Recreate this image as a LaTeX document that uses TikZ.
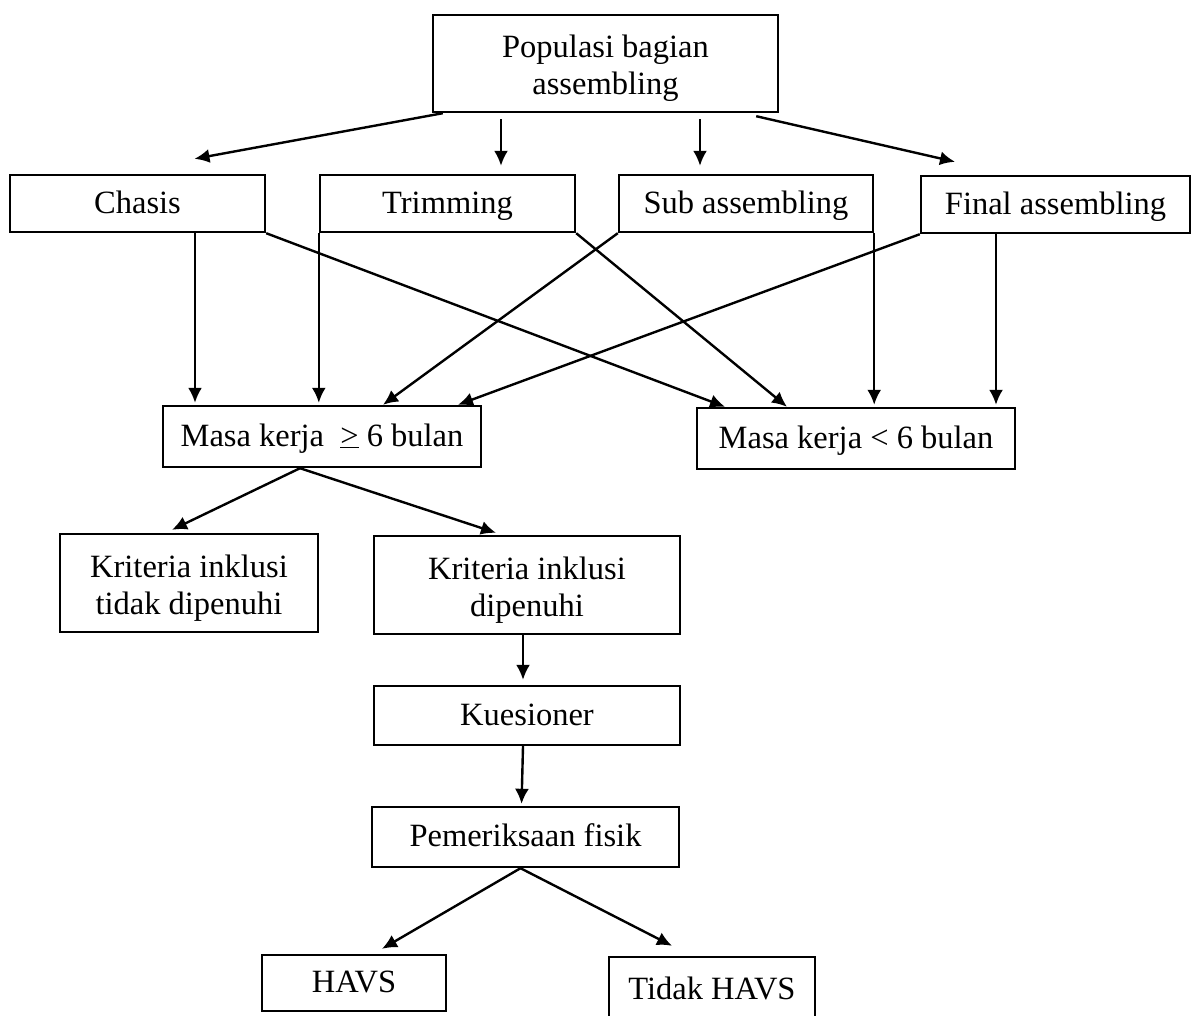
\documentclass[tikz,border=0pt]{standalone}
\usepackage{fontspec}
\setmainfont{Liberation Serif}
\usetikzlibrary{arrows.meta}

\begin{document}
\begin{tikzpicture}[x=1pt,y=-1pt,
    box/.style={draw, line width=2.4pt, inner sep=0pt, align=center,
      font=\fontsize{32.5}{37}\selectfont},
    oneline/.style={box, text height=25pt, text depth=6pt},
    twoline/.style={box, text height=70pt, text depth=8pt},
    arr/.style={line width=2.4pt, -{Latex[length=15pt,width=14pt]}},
    gap/.style={shorten <=6pt, shorten >=8pt}]
          \useasboundingbox (0,0) rectangle (1193,1015);
          \clip (0,0) rectangle (1193,1015);
          % Population
          \node[twoline, minimum width=345pt, minimum height=97pt] (pop) at (605.5,63.5) {Populasi bagian\\assembling};
          % Sections
          \node[oneline, minimum width=255pt, minimum height=57pt] (chasis) at (137.5,203.5) {Chasis};
          \node[oneline, minimum width=255pt, minimum height=57pt] (trim) at (447.5,203.5) {Trimming};
          \node[oneline, minimum width=254pt, minimum height=57pt] (sub) at (746,203.5) {Sub assembling};
          \node[oneline, minimum width=269pt, minimum height=57pt] (final) at (1055.5,204.5) {Final assembling};
          % Work period
          \node[oneline, minimum width=318pt, minimum height=61pt] (masaA) at (322,436.5) {Masa kerja\ \ \underline{>} 6 bulan};
          \node[oneline, minimum width=318pt, minimum height=61pt] (masaB) at (856,438.5) {Masa kerja < 6 bulan};
          % Inclusion criteria
          \node[twoline, minimum width=258pt, minimum height=98pt] (tidak) at (189,583) {Kriteria inklusi\\tidak dipenuhi};
          \node[twoline, minimum width=306pt, minimum height=98pt] (penuh) at (527,585) {Kriteria inklusi\\dipenuhi};
          \node[oneline, minimum width=306pt, minimum height=59pt] (kues) at (527,715.5) {Kuesioner};
          \node[oneline, minimum width=307pt, minimum height=60pt] (fisik) at (525.5,837) {Pemeriksaan fisik};
          % Result
          \node[oneline, minimum width=184pt, minimum height=56pt] (havs) at (354,983) {HAVS};
          \node[oneline, minimum width=206pt, minimum height=66pt] (nohavs) at (712,990) {Tidak HAVS};
          % Population to sections
          \draw[arr] ([xshift=11pt]pop.south west) -- ([xshift=57pt,yshift=15pt]chasis.north);
          \draw[arr, gap] ([xshift=53.5pt]trim.north |- pop.south) -- ([xshift=53.5pt]trim.north);
          \draw[arr, gap] ([xshift=-46pt]sub.north |- pop.south) -- ([xshift=-46pt]sub.north);
          \draw[arr] ([xshift=-23pt,yshift=-3pt]pop.south east) -- ([xshift=-100.5pt,yshift=13pt]final.north);
          % Sections to work period
          \draw[arr, shorten >=2pt] ([xshift=57.5pt]chasis.south) -- ([xshift=57.5pt]chasis.south |- masaA.north);
          \draw[arr] (chasis.south east) -- ([xshift=-131pt]masaB.north);
          \draw[arr, shorten >=2pt] (trim.south west) -- (trim.south west |- masaA.north);
          \draw[arr] (trim.south east) -- ([xshift=-69pt]masaB.north);
          \draw[arr] (sub.south west) -- ([xshift=61pt]masaA.north);
          \draw[arr, shorten >=2pt] (sub.south east) -- (sub.south east |- masaB.north);
          \draw[arr] (final.south west) -- ([xshift=136pt]masaA.north);
          \draw[arr, shorten >=2pt] ([xshift=-59.5pt]final.south) -- ([xshift=-59.5pt]final.south |- masaB.north);
          % Work period to criteria
          \draw[arr] ([xshift=-22pt]masaA.south) -- ([xshift=-17pt,yshift=3pt]tidak.north);
          \draw[arr] ([xshift=-22pt]masaA.south) -- ([xshift=-31pt,yshift=2pt]penuh.north);
          \draw[arr, shorten >=5pt] ([xshift=-4pt]penuh.south) -- ([xshift=-4pt]kues.north);
          \draw[arr, shorten >=2pt] ([xshift=-4pt]kues.south) -- ([xshift=-4pt]fisik.north);
          % Examination to result
          \draw[arr] ([xshift=-5pt]fisik.south) -- ([xshift=28pt,yshift=5pt]havs.north);
          \draw[arr] ([xshift=-5pt]fisik.south) -- ([xshift=-40pt,yshift=10pt]nohavs.north);
        \end{tikzpicture}
\end{document}
